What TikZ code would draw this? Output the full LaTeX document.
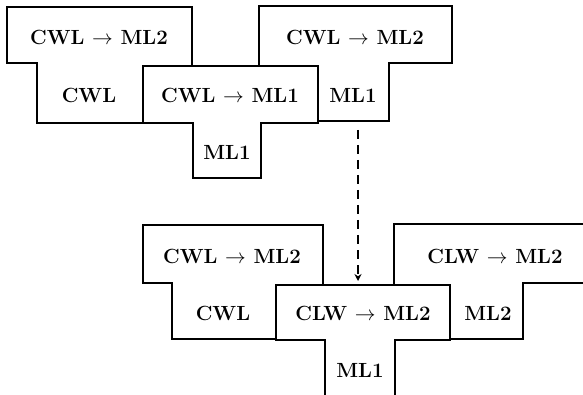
\documentclass[tikz,border=0pt]{standalone}
\usetikzlibrary{arrows.meta}
\begin{document}
\begin{tikzpicture}[x=1pt,y=-1pt,
  outline/.style={line width=2.2pt,line join=miter},
  lbl/.style={inner sep=0pt,font=\fontsize{20.5}{24}\selectfont\bfseries},
  flow/.style={line width=2.2pt,dash pattern=on 9pt off 6pt,-{Stealth[length=7pt,width=7pt]}}]
\useasboundingbox (0,0) rectangle (583,395);
\clip (0,0) rectangle (583,395);

% upper composition: compiler translated by the ML1 compiler running on ML1
\draw[outline] (143,123) -- (37,123) -- (37,63) -- (7,63) -- (7,7) -- (192,7) -- (192,66);
\draw[outline] (143,66) -- (318,66) -- (318,123) -- (261,123) -- (261,178)
  -- (193,178) -- (193,123) -- (143,123) -- cycle;
\draw[outline] (259,66) -- (259,6) -- (452,6) -- (452,63) -- (389,63) -- (389,121) -- (318,121);

\node[lbl] (a1) at (99,37)  {CWL $\rightarrow$ ML2};
\node[lbl] (a2) at (89,95)  {CWL};
\node[lbl] (b1) at (230,95) {CWL $\rightarrow$ ML1};
\node[lbl] (b2) at (227,152) {ML1};
\node[lbl] (c1) at (355,37) {CWL $\rightarrow$ ML2};
\node[lbl] (c2) at (353,95) {ML1};

% lower composition: compiler translated by the new compiler running on ML1
\draw[outline] (276,339) -- (172,339) -- (172,283) -- (143,283) -- (143,225) -- (323,225) -- (323,285);
\draw[outline] (276,285) -- (450,285) -- (450,340) -- (395,340) -- (395,410)
  -- (325,410) -- (325,340) -- (276,340) -- cycle;
\draw[outline] (394,285) -- (394,224) -- (600,224);
\draw[outline] (600,283) -- (523,283) -- (523,339) -- (450,339);

\node[lbl] (d1) at (232,256) {CWL $\rightarrow$ ML2};
\node[lbl] (d2) at (223,313) {CWL};
\node[lbl] (e1) at (363,313) {CLW $\rightarrow$ ML2};
\node[lbl] (e2) at (360,370) {ML1};
\node[lbl] (f1) at (495,256) {CLW $\rightarrow$ ML2};
\node[lbl] (f2) at (488,313) {ML2};

% derivation arrow between the two stages
\coordinate (from) at (358,130);
\coordinate (to) at (358,281);
\draw[flow] (from) -- (to);
\end{tikzpicture}
\end{document}
